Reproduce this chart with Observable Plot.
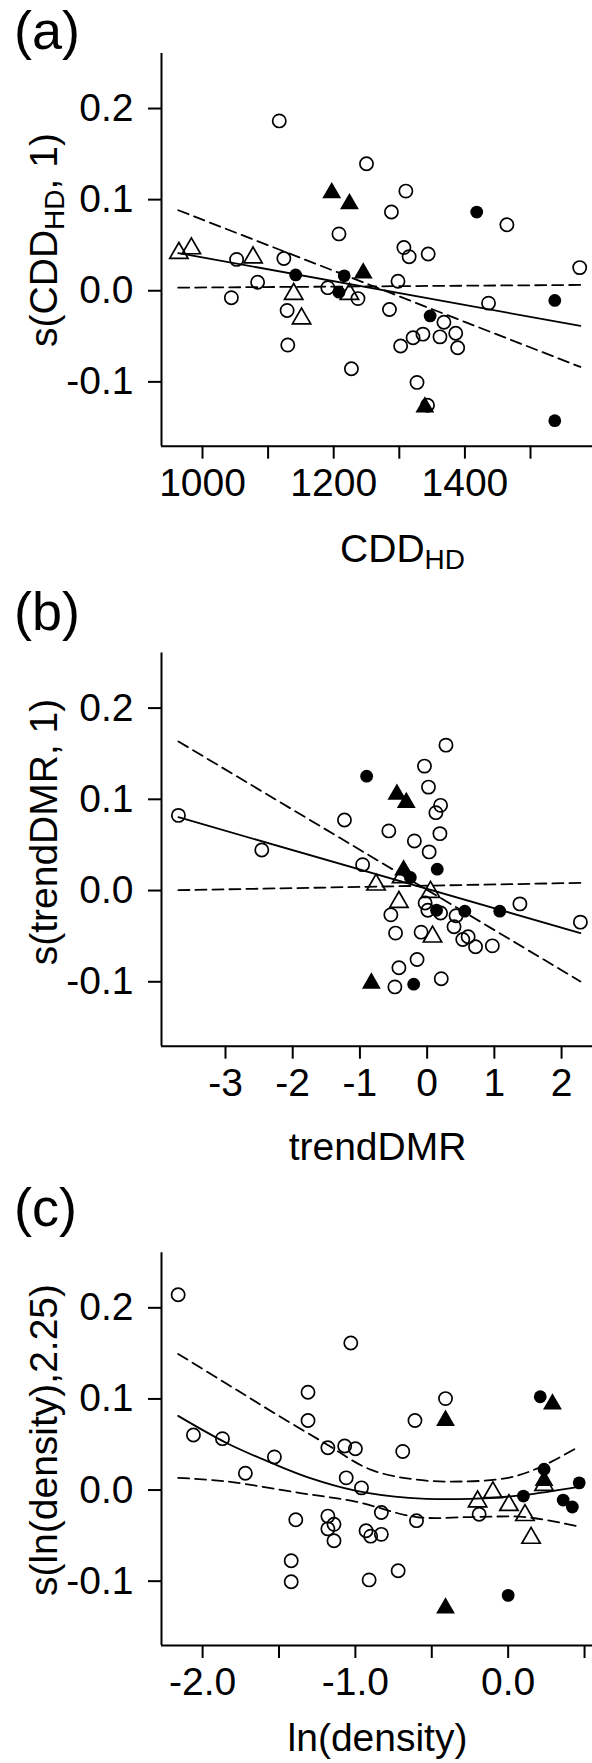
<!DOCTYPE html>
<html><head><meta charset="utf-8">
<script src="https://cdn.jsdelivr.net/npm/d3@7"></script>
<script src="https://cdn.jsdelivr.net/npm/@observablehq/plot@0.6"></script>
<style>
html,body{margin:0;padding:0;background:#fff;}
#chart{width:592px;}
#chart svg{display:block;}
</style></head><body><div id="chart"></div>
<script>
const FONT = '"Liberation Sans", Arial, Helvetica, sans-serif';

// ---------- shared y axis ----------
const yTicks = [-0.1, 0, 0.1, 0.2];
const yTickLabels = ["-0.1", "0.0", "0.1", "0.2"];
const yDomain = [-0.175, 0.256];

// ---------- panel (a): CDD_HD ----------
const aXTicks = [1000, 1100, 1200, 1300, 1400, 1500];
const aXTickLabels = ["1000", "", "1200", "", "1400", ""];
const aOpenCircles = [[1117,0.182],[1250,0.135],[1310,0.105],[1288,0.082],[1464,0.068],[1208,0.058],[1307,0.043],[1315,0.033],[1344,0.036],[1052,0.030],[1124,0.031],[1575,0.021],[1084,0.005],[1298,0.006],[1191,-0.001],[1044,-0.012],[1237,-0.013],[1436,-0.018],[1129,-0.026],[1285,-0.025],[1368,-0.039],[1336,-0.052],[1321,-0.056],[1362,-0.055],[1386,-0.051],[1389,-0.067],[1302,-0.065],[1130,-0.064],[1227,-0.090],[1327,-0.105],[1343,-0.130]];
const aFilledCircles = [[1142,0.013],[1216,0.012],[1418,0.082],[1208,-0.006],[1537,-0.015],[1347,-0.032],[1537,-0.147]];
const aFilledTriangles = [[1197,0.103],[1224,0.091],[1245,0.015],[1339,-0.132]];
const aOpenTriangles = [[964,0.037],[983,0.042],[1077,0.032],[1139,-0.008],[1224,-0.008],[1151,-0.035]];
const aFit = [[963,0.037],[1576,-0.043]];
const aBandSteep = [[963,0.084],[1576,-0.088]];
const aBandFlat = [[963,-0.001],[1576,0.002]];

// ---------- panel (b): trendDMR ----------
const bXTicks = [-3, -2, -1, 0, 1, 2];
const bXTickLabels = ["-3", "-2", "-1", "0", "1", "2"];
const bOpenCircles = [[-3.70,0.078],[-2.46,0.040],[-1.23,0.073],[-0.96,0.024],[0.28,0.155],[-0.04,0.132],[0.02,0.109],[0.20,0.089],[0.13,0.081],[0.19,0.058],[-0.57,0.061],[-0.19,0.050],[0.03,0.038],[1.38,-0.019],[2.28,-0.039],[-0.03,-0.018],[0.01,-0.026],[0.20,-0.029],[-0.54,-0.031],[0.43,-0.032],[0.40,-0.044],[-0.47,-0.051],[-0.09,-0.050],[0.61,-0.055],[0.53,-0.058],[0.72,-0.066],[0.97,-0.065],[-0.15,-0.080],[-0.42,-0.089],[0.21,-0.101],[-0.48,-0.110]];
const bFilledCircles = [[-0.90,0.121],[0.15,0.019],[-0.25,0.010],[0.14,-0.026],[0.56,-0.027],[1.08,-0.027],[-0.20,-0.107]];
const bFilledTriangles = [[-0.45,0.101],[-0.31,0.092],[-0.35,0.018],[-0.83,-0.106]];
const bOpenTriangles = [[-0.76,0.002],[-0.38,0.010],[0.05,-0.006],[-0.42,-0.017],[0.08,-0.055]];
const bFit = [[-3.70,0.076],[2.28,-0.051]];
const bBandSteep = [[-3.70,0.159],[2.28,-0.104]];
const bBandFlat = [[-3.70,-0.004],[2.28,0.004]];

// ---------- panel (c): ln(density) ----------
const cXTicks = [-2, -1.5, -1, -0.5, 0, 0.5];
const cXTickLabels = ["-2.0", "", "-1.0", "", "0.0", ""];
const cOpenCircles = [[-2.16,0.210],[-1.03,0.157],[-1.31,0.103],[-1.31,0.072],[-0.41,0.096],[-0.61,0.072],[-2.06,0.056],[-1.87,0.052],[-1.18,0.042],[-1.07,0.044],[-1.00,0.041],[-0.69,0.038],[-1.53,0.032],[-1.72,0.014],[-1.06,0.009],[-0.96,-0.002],[-0.83,-0.029],[-0.60,-0.038],[-1.39,-0.037],[-1.18,-0.033],[-1.14,-0.042],[-1.18,-0.047],[-1.14,-0.060],[-0.93,-0.049],[-0.90,-0.055],[-0.83,-0.053],[-0.19,-0.031],[-1.42,-0.082],[-1.42,-0.105],[-0.91,-0.103],[-0.72,-0.093]];
const cFilledCircles = [[0.21,0.098],[0.235,0.0185],[0.10,-0.011],[0.465,0.0035],[0.36,-0.0154],[0.42,-0.023],[0.0,-0.120]];
const cFilledTriangles = [[-0.41,0.072],[0.29,0.090],[0.235,0.006],[-0.41,-0.134]];
const cOpenTriangles = [[-0.20,-0.017],[-0.10,-0.007],[0.005,-0.021],[0.11,-0.032],[0.15,-0.057],[0.235,0.001]];
const cFit = [[-2.16,0.077],[-1.84,0.047],[-1.53,0.024],[-1.30,0.009],[-1.0,-0.005],[-0.65,-0.013],[-0.25,-0.014],[0.1,-0.010],[0.46,-0.001]];
const cUpper = [[-2.16,0.145],[-1.84,0.112],[-1.53,0.080],[-1.20,0.047],[-0.90,0.018],[-0.60,0.007],[-0.30,0.005],[0.0,0.009],[0.2,0.020],[0.46,0.043]];
const cLower = [[-2.16,0.009],[-1.84,0.005],[-1.35,-0.008],[-1.0,-0.017],[-0.60,-0.034],[-0.23,-0.034],[0.11,-0.034],[0.45,-0.044]];

// ---------- titles ----------
const aLetter = "(a)", bLetter = "(b)", cLetter = "(c)";
const aXTitle = [["CDD", ""], ["HD", "sub"]];
const aYTitle = [["s(CDD", ""], ["HD", "sub"], [", 1)", ""]];
const bXTitle = [["trendDMR", ""]];
const bYTitle = [["s(trendDMR, 1)", ""]];
const cXTitle = [["ln(density)", ""]];
const cYTitle = [["s(ln(density),2.25)", ""]];

const panels = [
  {offset: 0, height: 580, plotTop: 53, plotBottom: 445.7, xDomain: [937.5, 1594.5],
   xTicks: aXTicks, xLabels: aXTickLabels, oc: aOpenCircles, fc: aFilledCircles, ft: aFilledTriangles, ot: aOpenTriangles,
   solid: [aFit], dashed: [aBandSteep, aBandFlat], curve: "linear",
   letter: aLetter, letterY: 49, xTitle: aXTitle, xTitleX: 402.6, xTitleY: 562, yTitle: aYTitle, yTitleY: 240},
  {offset: 580, height: 590, plotTop: 652.5, plotBottom: 1045.7, xDomain: [-3.952, 2.46],
   xTicks: bXTicks, xLabels: bXTickLabels, oc: bOpenCircles, fc: bFilledCircles, ft: bFilledTriangles, ot: bOpenTriangles,
   solid: [bFit], dashed: [bBandSteep, bBandFlat], curve: "linear",
   letter: bLetter, letterY: 630, xTitle: bXTitle, xTitleX: 377.5, xTitleY: 1160, yTitle: bYTitle, yTitleY: 832},
  {offset: 1170, height: 593, plotTop: 1252.3, plotBottom: 1645, xDomain: [-2.269, 0.552],
   xTicks: cXTicks, xLabels: cXTickLabels, oc: cOpenCircles, fc: cFilledCircles, ft: cFilledTriangles, ot: cOpenTriangles,
   solid: [cFit], dashed: [cUpper, cLower], curve: "catmull-rom",
   letter: cLetter, letterY: 1226, xTitle: cXTitle, xTitleX: 377.5, xTitleY: 1751, yTitle: cYTitle, yTitleY: 1440}
];

const rows = arr => arr.map(([x, y]) => ({x, y}));

function addTitle(svg, parts, attrs) {
  const t = svg.append("text")
    .attr("font-family", FONT).attr("font-size", 39).attr("fill", "black")
    .attr("text-anchor", "middle");
  for (const [k, v] of Object.entries(attrs)) t.attr(k, v);
  let shifted = false;
  parts.forEach(([txt, kind]) => {
    const s = t.append("tspan").text(txt);
    if (kind === "sub") { s.attr("font-size", 28).attr("dy", 7); shifted = true; }
    else if (shifted) { s.attr("dy", -7); shifted = false; }
  });
  return t;
}

const container = document.getElementById("chart");
for (const p of panels) {
  const H = p.height;
  const mt = p.plotTop - p.offset;
  const mb = H - (p.plotBottom - p.offset);
  const xFmt = d => p.xLabels[p.xTicks.indexOf(d)];
  const yFmt = d => yTickLabels[yTicks.indexOf(d)];
  const marks = [
    Plot.ruleX([p.xDomain[0]], {y1: yDomain[0], y2: yDomain[1], stroke: "black", strokeWidth: 2}),
    Plot.ruleY([yDomain[0]], {x1: p.xDomain[0], x2: p.xDomain[1], stroke: "black", strokeWidth: 2}),
    Plot.axisY({ticks: yTicks, tickFormat: yFmt, tickSize: 13, tickPadding: 15, fontSize: 39, strokeWidth: 2, label: null, dy: 4}),
    Plot.axisX({ticks: p.xTicks, tickFormat: xFmt, tickSize: 13, tickPadding: 9, fontSize: 39, strokeWidth: 2, label: null})
  ];
  for (const d of p.dashed) marks.push(Plot.line(rows(d), {x: "x", y: "y", stroke: "black", strokeWidth: 1.8, strokeDasharray: "11,6", curve: p.curve}));
  for (const d of p.solid) marks.push(Plot.line(rows(d), {x: "x", y: "y", stroke: "black", strokeWidth: 1.8, curve: p.curve}));
  marks.push(Plot.dot(rows(p.oc), {x: "x", y: "y", r: 6.6, stroke: "black", fill: "none", strokeWidth: 1.7}));
  marks.push(Plot.dot(rows(p.ot), {x: "x", y: "y", r: 6.8, symbol: "triangle", stroke: "black", fill: "none", strokeWidth: 1.7}));
  marks.push(Plot.dot(rows(p.fc), {x: "x", y: "y", r: 6.4, fill: "black", stroke: "none"}));
  marks.push(Plot.dot(rows(p.ft), {x: "x", y: "y", r: 7, symbol: "triangle", fill: "black", stroke: "none"}));

  const chart = Plot.plot({
    width: 592, height: H,
    marginLeft: 161, marginRight: 0, marginTop: mt, marginBottom: mb,
    x: {domain: p.xDomain}, y: {domain: yDomain},
    style: {fontFamily: FONT, fontSize: "39px", color: "black", background: "white", overflow: "visible"},
    marks
  });
  const svg = d3.select(chart);
  svg.append("text").attr("x", 14).attr("y", p.letterY - p.offset)
    .attr("text-anchor", "start")
    .attr("font-family", FONT).attr("font-size", 54).attr("fill", "black").text(p.letter);
  addTitle(svg, p.xTitle, {x: p.xTitleX, y: p.xTitleY - p.offset});
  addTitle(svg, p.yTitle, {transform: `translate(57,${p.yTitleY - p.offset}) rotate(-90)`});
  container.appendChild(chart);
}
</script></body></html>
